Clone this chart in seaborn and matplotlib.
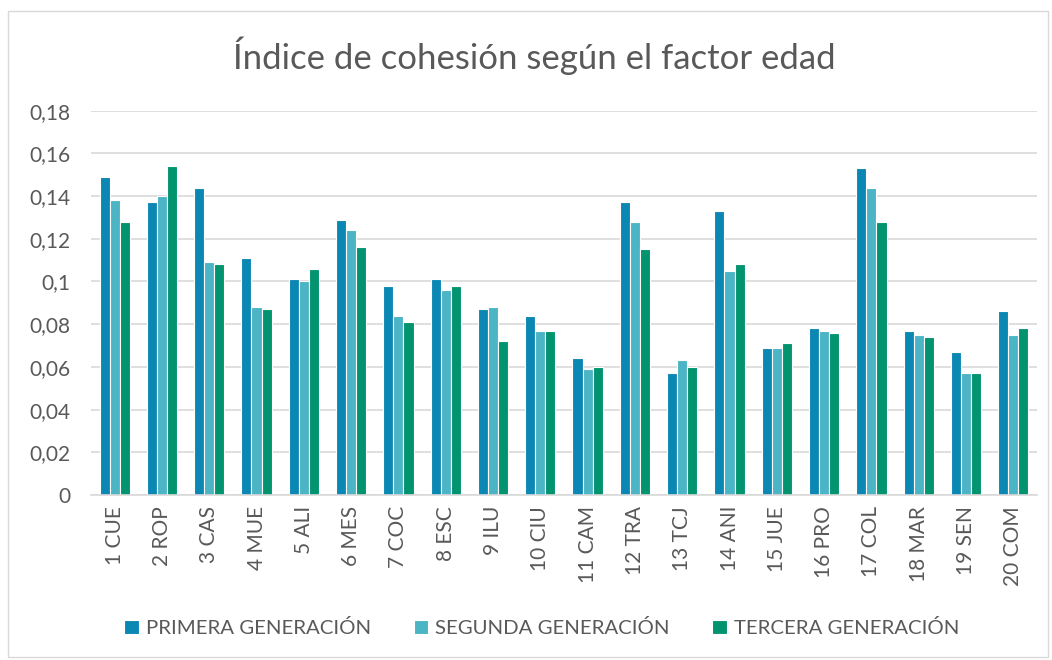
import pandas as pd
import numpy as np
import matplotlib.pyplot as plt
import seaborn as sns
from matplotlib.patches import Rectangle
from matplotlib.ticker import FuncFormatter

# Datos
categorias = ['1 CUE', '2 ROP', '3 CAS', '4 MUE', '5 ALI', '6 MES', '7 COC', '8 ESC', '9 ILU', '10 CIU',
              '11 CAM', '12 TRA', '13 TCJ', '14 ANI', '15 JUE', '16 PRO', '17 COL', '18 MAR', '19 SEN', '20 COM']
primera = [0.149, 0.137, 0.144, 0.111, 0.101, 0.129, 0.098, 0.101, 0.087, 0.084,
           0.064, 0.137, 0.057, 0.133, 0.069, 0.078, 0.153, 0.077, 0.067, 0.086]
segunda = [0.138, 0.140, 0.109, 0.088, 0.100, 0.124, 0.084, 0.096, 0.088, 0.077,
           0.059, 0.128, 0.063, 0.105, 0.069, 0.077, 0.144, 0.075, 0.057, 0.075]
tercera = [0.128, 0.154, 0.108, 0.087, 0.106, 0.116, 0.081, 0.098, 0.072, 0.077,
           0.060, 0.115, 0.060, 0.108, 0.071, 0.076, 0.128, 0.074, 0.057, 0.078]
series = ['PRIMERA GENERACIÓN', 'SEGUNDA GENERACIÓN', 'TERCERA GENERACIÓN']
y_ticks = [0, 0.02, 0.04, 0.06, 0.08, 0.10, 0.12, 0.14, 0.16, 0.18]

colores = ['#0b87b3', '#4bb4c5', '#02946f']
gris = '#595959'

df = pd.DataFrame({
    'categoria': categorias * 3,
    'valor': primera + segunda + tercera,
    'serie': [series[0]] * 20 + [series[1]] * 20 + [series[2]] * 20,
})

sns.set_theme(style="white")
plt.rcParams['font.family'] = ['Lato', 'DejaVu Sans']

fig = plt.figure(figsize=(10.52, 6.6), dpi=100)
ax = fig.add_axes([0.0865, 0.25, 0.8992, 0.5823])

sns.barplot(data=df, x='categoria', y='valor', hue='serie', palette=colores,
            width=0.64, edgecolor='white', linewidth=0.8, saturation=1, ax=ax, legend=True)

ax.set_ylim(0, 0.18)
ax.set_xlim(-0.5, 19.5)
ax.set_yticks(y_ticks)
ax.yaxis.set_major_formatter(FuncFormatter(lambda v, p: ('%g' % round(v, 2)).replace('.', ',')))
ax.grid(axis='y', color='#d9d9d9', linewidth=1.2)
ax.set_axisbelow(True)
for s in ['top', 'right', 'left']:
    ax.spines[s].set_visible(False)
ax.spines['bottom'].set_color('#d9d9d9')
ax.spines['bottom'].set_linewidth(1.2)
ax.tick_params(axis='y', labelsize=15, colors=gris, length=0, pad=15)
ax.tick_params(axis='x', labelsize=15, colors=gris, length=0, pad=8, labelrotation=90)
ax.set_xlabel('')
ax.set_ylabel('')

handles, labels = ax.get_legend_handles_labels()
ax.get_legend().remove()
fig.legend(handles, labels, loc='center', bbox_to_anchor=(0.515, 0.048), ncol=3, frameon=False,
           fontsize=14.7, labelcolor=gris, handlelength=0.7, handleheight=0.7, handletextpad=0.35,
           columnspacing=2.1)

fig.text(0.508, 0.915, 'Índice de cohesión según el factor edad', ha='center', va='center',
         fontsize=25, color=gris)

fig.patches.append(Rectangle((0.008, 0.004), 0.988, 0.979, transform=fig.transFigure,
                             fill=False, edgecolor='#d9d9d9', linewidth=1))

fig.savefig('out.png', dpi=100)
plt.close()
